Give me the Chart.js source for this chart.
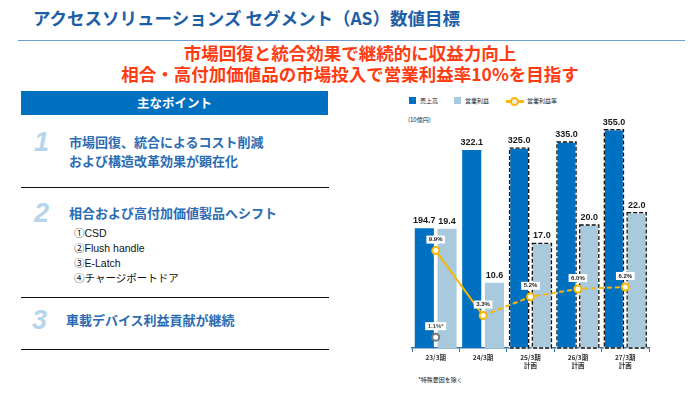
<!DOCTYPE html>
<html lang="ja">
<head>
<meta charset="utf-8">
<script src="https://cdn.jsdelivr.net/npm/chart.js@4.4.1/dist/chart.umd.min.js"></script>
<style>
  html, body { margin: 0; padding: 0; background: #fff; }
  body { width: 700px; height: 394px; position: relative; overflow: hidden;
         font-family: "Noto Sans CJK JP", "Noto Sans", sans-serif; }
  .abs { position: absolute; white-space: nowrap; }
  #title { left: 33px; top: 5px; font-size: 17.5px; font-weight: bold; color: #1d5ea6; }
  #rule { left: 18px; top: 40px; width: 667px; height: 0; border-top: 1.5px solid #6d9fd2; }
  .red { left: 0; width: 700px; text-align: center; font-size: 17.5px; font-weight: bold; color: #ff3b12; }
  #head { left: 21px; top: 91px; width: 307px; height: 24px; background: #0070c0;
          color: #fff; font-size: 12.5px; font-weight: bold; text-align: center; line-height: 24px; }
  .num { font-family: "Liberation Sans", Arial, sans-serif; font-style: italic; font-weight: bold;
         font-size: 27px; color: #b6d5ec; }
  .pt { font-size: 13px; font-weight: bold; color: #2b6cb4; line-height: 18.5px; }
  .sub { font-family: "Liberation Sans", "Noto Sans CJK JP", sans-serif; font-size: 10.5px; color: #111; line-height: 15px; }
  .sep { left: 21px; width: 308px; height: 0; border-top: 1.5px solid #111; }
  .lg { font-size: 6px; color: #222; }
  #chartBox { position: absolute; left: 400px; top: 88px; width: 270px; height: 306px; }
</style>
</head>
<body>
<div id="title" class="abs">アクセスソリューションズ セグメント（AS）数値目標</div>
<div id="rule" class="abs"></div>
<div class="abs red" style="top:40px;">市場回復と統合効果で継続的に収益力向上</div>
<div class="abs red" style="top:61px;">相合・高付加価値品の市場投入で営業利益率10%を目指す</div>

<div id="head" class="abs">主なポイント</div>

<div class="abs num" style="left:34px; top:127px;">1</div>
<div class="abs pt" style="left:69px; top:133px;">市場回復、統合によるコスト削減<br>および構造改革効果が顕在化</div>
<div class="abs sep" style="top:187px;"></div>

<div class="abs num" style="left:34px; top:198px;">2</div>
<div class="abs pt" style="left:69px; top:204px;">相合および高付加価値製品へシフト</div>
<div class="abs sub" style="left:74px; top:226px;">①CSD<br>②Flush handle<br>③E-Latch<br>④チャージポートドア</div>
<div class="abs sep" style="top:297px;"></div>

<div class="abs num" style="left:32px; top:305px;">3</div>
<div class="abs pt" style="left:66px; top:311px;">車載デバイス利益貢献が継続</div>
<div class="abs sep" style="top:349px;"></div>

<!-- legend -->
<div class="abs" style="left:409px; top:97px; width:7px; height:7px; background:#0070c0;"></div>
<div class="abs lg" style="left:420px; top:96px;">売上高</div>
<div class="abs" style="left:454px; top:97px; width:7px; height:7px; background:#a9c9dd;"></div>
<div class="abs lg" style="left:465px; top:96px;">営業利益</div>
<div class="abs" style="left:506px; top:100px; width:18px; height:2.5px; background:#fbb600;"></div>
<div class="abs" style="left:510px; top:97px; width:5px; height:5px; border:2px solid #fbb600; border-radius:50%; background:#eee;"></div>
<div class="abs lg" style="left:527px; top:96px;">営業利益率</div>
<div class="abs lg" style="left:408px; top:115px;">(10億円)</div>
<div class="abs lg" style="left:418px; top:375px;">*特殊要因を除く</div>

<div id="chartBox"><canvas id="chart" width="270" height="306"></canvas></div>

<script>
const categories = [["23/3期"], ["24/3期"], ["25/3期", "計画"], ["26/3期", "計画"], ["27/3期", "計画"]];
const sales = [194.7, 322.1, 325.0, 335.0, 355.0];
const operatingProfit = [19.4, 10.6, 17.0, 20.0, 22.0];
const operatingMargin = [9.9, 3.3, 5.2, 6.0, 6.2];
const marginExSpecial = [1.1, null, null, null, null];
const planIndexes = [2, 3, 4];

const blue = "#0070c0";
const lightBlue = "#a9c9dd";
const yellow = "#fbb600";

// dashed outline on plan bars
const planBorders = {
  id: "planBorders",
  afterDatasetDraw(chart, args) {
    if (args.meta.type !== "bar") return;
    const ctx = chart.ctx;
    ctx.save();
    args.meta.data.forEach((bar, i) => {
      if (!planIndexes.includes(i)) return;
      const x = bar.x - bar.width / 2, y = bar.y, w = bar.width, h = bar.base - bar.y;
      ctx.lineWidth = 1.3;
      ctx.setLineDash([]);
      ctx.strokeStyle = "#fff";
      ctx.strokeRect(x, y, w, h);
      ctx.setLineDash([4, 2]);
      ctx.strokeStyle = "#111";
      ctx.strokeRect(x, y, w, h);
    });
    ctx.restore();
  }
};

const valueLabels = {
  id: "valueLabels",
  afterDatasetsDraw(chart) {
    const ctx = chart.ctx;
    ctx.save();
    ctx.textAlign = "center";
    // bar values
    ctx.font = "bold 9px 'Liberation Sans', Arial, sans-serif";
    ctx.fillStyle = "#1a1a1a";
    ctx.textBaseline = "bottom";
    chart.data.datasets.forEach((ds, di) => {
      if (ds.type !== "bar") return;
      chart.getDatasetMeta(di).data.forEach((bar, i) => {
        ctx.fillText(ds.data[i].toFixed(1), bar.x, bar.y - 3);
      });
    });
    // margin values in white boxes
    ctx.font = "bold 6px 'Liberation Sans', Arial, sans-serif";
    ctx.textBaseline = "middle";
    chart.data.datasets.forEach((ds, di) => {
      if (ds.type !== "line") return;
      chart.getDatasetMeta(di).data.forEach((pt, i) => {
        const v = ds.data[i];
        if (v == null) return;
        const txt = v.toFixed(1) + "%" + (ds.note || "");
        const w = ctx.measureText(txt).width + 5;
        const cy = pt.y - 11;
        ctx.fillStyle = "#fff";
        ctx.fillRect(pt.x - w / 2, cy - 4, w, 8);
        ctx.fillStyle = ds.note ? "#555" : "#1a1a1a";
        ctx.fillText(txt, pt.x, cy);
      });
    });
    ctx.restore();
  }
};

new Chart(document.getElementById("chart"), {
  data: {
    labels: categories,
    datasets: [
      {
        type: "bar", label: "売上高", data: sales, yAxisID: "y",
        backgroundColor: blue, order: 2,
        categoryPercentage: 0.96, barPercentage: 0.84,
      },
      {
        type: "bar", label: "営業利益", data: operatingProfit, yAxisID: "yProfit",
        backgroundColor: lightBlue, order: 3,
        categoryPercentage: 0.96, barPercentage: 0.84,
      },
      {
        type: "line", label: "営業利益率", data: operatingMargin, yAxisID: "yMargin",
        borderColor: yellow, borderWidth: 2, order: 0,
        pointRadius: 3.5, pointBorderWidth: 2, pointBackgroundColor: "#fff", pointBorderColor: yellow,
        segment: { borderDash: (c) => (c.p0DataIndex >= 1 ? [5, 3] : undefined) },
      },
      {
        type: "line", label: "営業利益率(特殊要因除く)", data: marginExSpecial, yAxisID: "yMargin",
        note: "*", showLine: false, order: 1,
        pointRadius: 3.5, pointBorderWidth: 2, pointBackgroundColor: "#fff", pointBorderColor: "#777",
      },
    ],
  },
  options: {
    responsive: false,
    animation: false,
    layout: { padding: { left: 12, right: 21, top: 14, bottom: 0 } },
    plugins: { legend: { display: false }, tooltip: { enabled: false } },
    scales: {
      x: {
        offset: true,
        grid: { display: true, drawOnChartArea: false, drawTicks: true, tickLength: 4, offset: true, color: "#3a70a8" },
        border: { display: true, color: "#3a70a8", width: 1.5 },
        ticks: {
          padding: 1, color: "#333", maxRotation: 0, autoSkip: false,
          font: { size: 6.5, weight: "bold", family: "'Noto Sans CJK JP', sans-serif", lineHeight: 1.25 },
        },
        afterFit: (scale) => { scale.height = 46; },
      },
      y: { display: false, min: 0, max: 400 },
      yProfit: { display: false, min: 0, max: 40 },
      yMargin: { display: false, min: 0, max: 25 },
    },
  },
  plugins: [planBorders, valueLabels],
});
</script>
</body>
</html>
